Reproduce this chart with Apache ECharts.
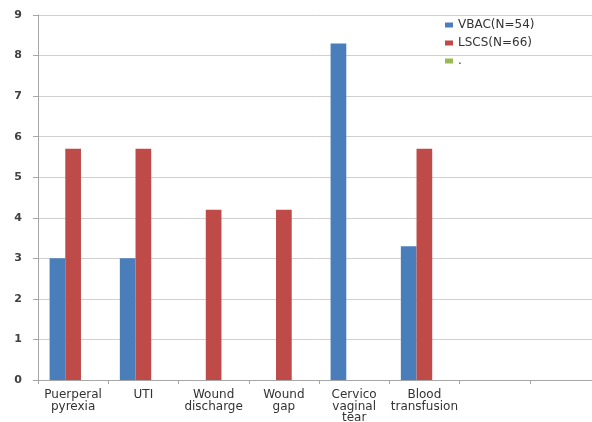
<!DOCTYPE html>
<html>
<head>
<meta charset="utf-8">
<script src="https://cdn.jsdelivr.net/npm/echarts@6/dist/echarts.min.js"></script>
<style>
  html, body { margin: 0; padding: 0; background: #fff; }
  #chart { width: 592px; height: 422px; }
</style>
</head>
<body>
<div id="chart"></div>
<script>
// Complications by delivery type
const categories = [
  'Puerperal\npyrexia', 'UTI', 'Wound\ndischarge', 'Wound\ngap',
  'Cervico\nvaginal\ntear', 'Blood\ntransfusion', '', ''
];
const vbacLabel = 'VBAC(N=54)';
const lscsLabel = 'LSCS(N=66)';
const thirdLabel = '.';
const vbacValues = [3.0, 3.0, 0, 0, 8.3, 3.3, null, null];
const lscsValues = [5.7, 5.7, 4.2, 4.2, 0, 5.7, null, null];
const thirdValues = [null, null, null, null, null, null, null, null];
const yTicks = { min: 0, max: 9, step: 1 };

const chart = echarts.init(document.getElementById('chart'), null, { renderer: 'canvas' });
const font = 'DejaVu Sans';

chart.setOption({
  animation: false,
  backgroundColor: '#ffffff',
  textStyle: { fontFamily: font },
  grid: { left: 38, top: 15, width: 562, height: 365, containLabel: false, outerBoundsMode: 'none' },
  legend: {
    orient: 'vertical',
    left: 445,
    top: 18,
    padding: 0,
    itemWidth: 8,
    itemHeight: 5,
    itemGap: 4,
    icon: 'rect',
    textStyle: { fontFamily: font, fontSize: 12, color: '#333333', lineHeight: 14 },
    data: [vbacLabel, lscsLabel, thirdLabel]
  },
  xAxis: {
    type: 'category',
    data: categories,
    axisLine: { lineStyle: { color: '#a6a6a6', width: 1 } },
    axisTick: { show: true, length: 4, lineStyle: { color: '#a6a6a6' } },
    axisLabel: {
      interval: 0,
      margin: 9,
      fontFamily: font,
      fontSize: 12,
      lineHeight: 11.6,
      color: '#333333'
    }
  },
  yAxis: {
    type: 'value',
    min: yTicks.min,
    max: yTicks.max,
    interval: yTicks.step,
    axisLine: { show: true, lineStyle: { color: '#a6a6a6', width: 1 } },
    axisTick: { show: true, length: 5, lineStyle: { color: '#a6a6a6' } },
    axisLabel: { fontFamily: font, fontSize: 11, fontWeight: 'bold', color: '#404040', margin: 16 },
    splitLine: { lineStyle: { color: '#d0d0d0', width: 1 } }
  },
  series: [
    { name: vbacLabel, type: 'bar', data: vbacValues, barGap: '0%', barCategoryGap: '33%',
      itemStyle: { color: '#4a7ebb' } },
    { name: lscsLabel, type: 'bar', data: lscsValues, barGap: '0%', barCategoryGap: '33%',
      itemStyle: { color: '#be4b48' } },
    { name: thirdLabel, type: 'bar', data: thirdValues, barGap: '0%', barCategoryGap: '33%',
      itemStyle: { color: '#98b954' } }
  ]
});
</script>
</body>
</html>
